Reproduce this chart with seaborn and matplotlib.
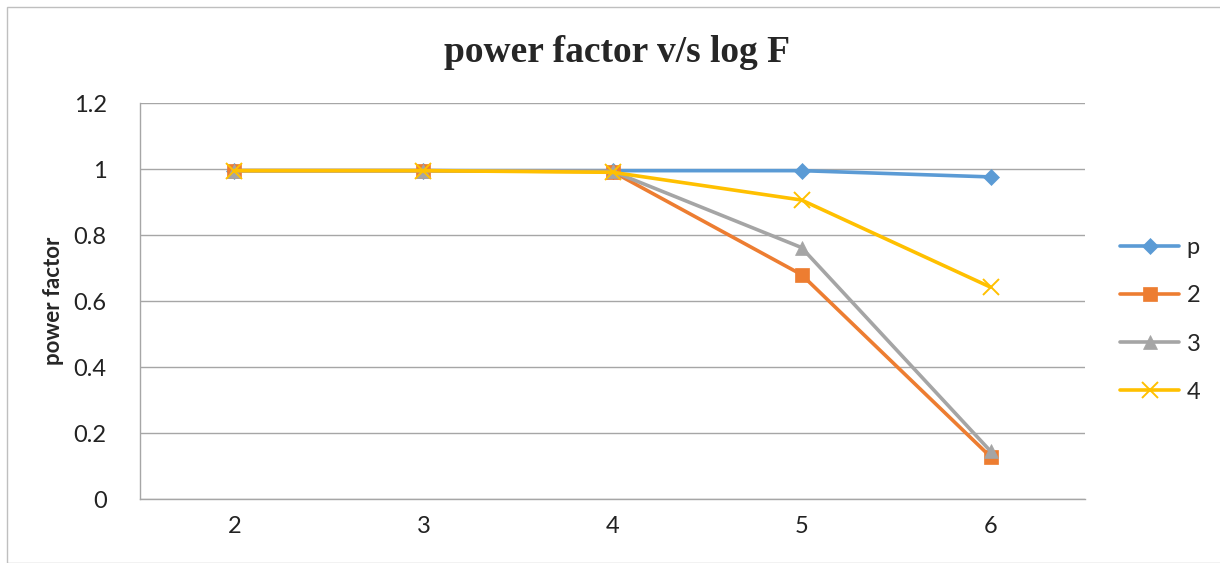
import pandas as pd
import matplotlib.pyplot as plt
import seaborn as sns

# log F values on the category axis
log_f = [2, 3, 4, 5, 6]

# power factor per series
pf_p = [0.995, 0.995, 0.995, 0.995, 0.976]
pf_2 = [0.995, 0.995, 0.992, 0.680, 0.128]
pf_3 = [0.995, 0.995, 0.993, 0.762, 0.145]
pf_4 = [0.995, 0.995, 0.990, 0.906, 0.642]

series_names = ["p", "2", "3", "4"]
series_vals = [pf_p, pf_2, pf_3, pf_4]
colors = ["#5B9BD5", "#ED7D31", "#A5A5A5", "#FFC000"]
markers = ["D", "s", "^", "x"]
msizes = [8, 10, 10, 11]

sns.set_style("white")
plt.rcParams["font.family"] = ["Lato", "DejaVu Sans"]

fig = plt.figure(figsize=(12.2, 5.63), dpi=100)
ax = fig.add_axes([140 / 1220, 1 - 499 / 563, 945 / 1220, 396 / 563])

for name, vals, col, mk, ms in zip(series_names, series_vals, colors, markers, msizes):
    df = pd.DataFrame({"logF": log_f, "pf": vals})
    sns.lineplot(data=df, x="logF", y="pf", color=col, marker=mk, markersize=ms,
                 markeredgecolor=col, markeredgewidth=1.4 if mk == "x" else 0.5,
                 linewidth=2.6, label=name, ax=ax)

ax.set_xlim(1.5, 6.5)
ax.set_ylim(0, 1.2)
ax.set_xticks(log_f)
ax.set_xticklabels([str(v) for v in log_f])
ax.set_yticks([0, 0.2, 0.4, 0.6, 0.8, 1.0, 1.2])
ax.set_yticklabels(["0", "0.2", "0.4", "0.6", "0.8", "1", "1.2"])
ax.tick_params(axis="y", length=0, labelsize=17, colors="#222222", pad=24)
ax.tick_params(axis="x", length=0, labelsize=17, colors="#222222", pad=12)
ax.yaxis.grid(True, color="#A6A6A6", linewidth=1)
ax.xaxis.grid(False)
for side in ["top", "right"]:
    ax.spines[side].set_visible(False)
for side in ["left", "bottom"]:
    ax.spines[side].set_color("#A6A6A6")
    ax.spines[side].set_linewidth(1)

ax.set_xlabel("")
ax.set_ylabel("power factor", fontsize=16, fontweight="bold", labelpad=7)
fig.text(617 / 1220, 1 - 52 / 563, "power factor v/s log F", ha="center", va="center",
         fontsize=27, fontweight="bold", family="Liberation Serif")

ax.legend(loc="center left", bbox_to_anchor=(1.015, 0.452), frameon=False,
          fontsize=17, handlelength=2.5, labelspacing=1.15, handletextpad=0.3)

# outer chart border
fig.patches.append(plt.Rectangle((7 / 1220, 0), 1.2, 1 - 7 / 563, transform=fig.transFigure,
                                 fill=False, edgecolor="#BFBFBF", linewidth=1))

fig.savefig("out.png", dpi=100)
